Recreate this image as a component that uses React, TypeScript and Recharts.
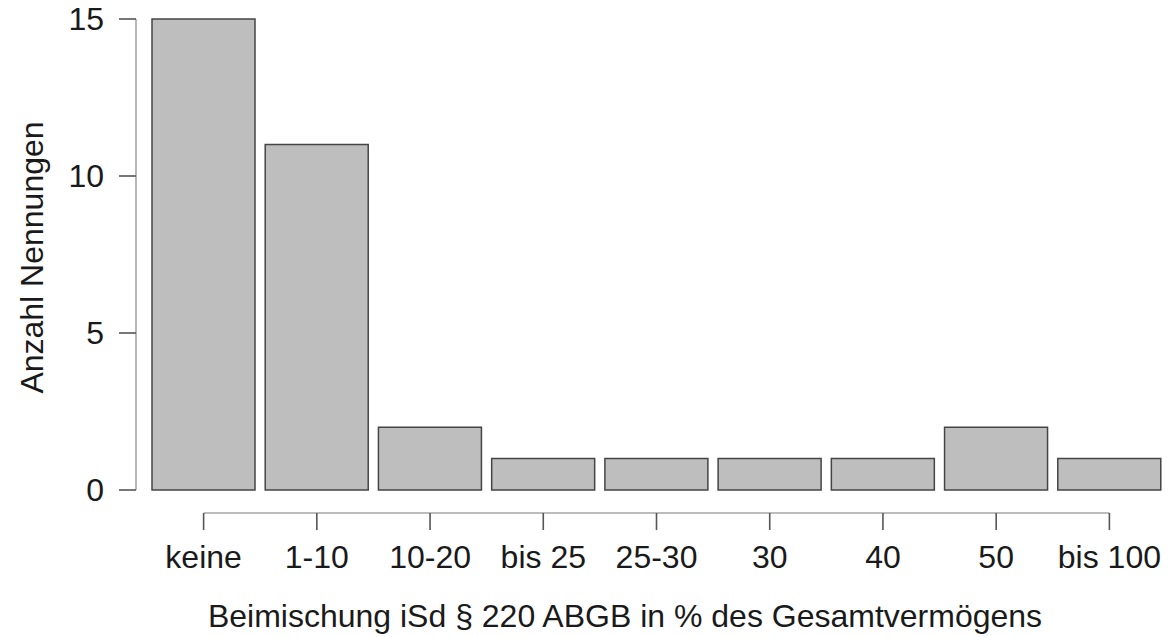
import React from "react";
import { BarChart, Bar, XAxis, YAxis } from "recharts";

const categories = ["keine", "1-10", "10-20", "bis 25", "25-30", "30", "40", "50", "bis 100"];
const counts = [15, 11, 2, 1, 1, 1, 1, 2, 1];
const yTicks = [0, 5, 10, 15];
const yTitle = "Anzahl Nennungen";
const xTitle = "Beimischung iSd § 220 ABGB in % des Gesamtvermögens";

const data = categories.map((c, i) => ({ name: c, value: counts[i] }));

const W = 1169;
const H = 637;
const MARGIN = { top: 19, right: 3, bottom: 0, left: 0 };
const Y_AXIS_W = 136;
const X_AXIS_H = 147;
const PAD_LEFT = 11;
const PLOT_W = W - MARGIN.left - MARGIN.right - Y_AXIS_W;
const BAND = (PLOT_W - PAD_LEFT) / categories.length;

const FONT = "'Liberation Sans', Arial, Helvetica, sans-serif";
const FS = 32;
const LINE = "#a6a6a6";
const TICK = "#555555";
const TEXT = "#1a1a1a";

const XTick = (props: any) => {
  const { x, y, payload, index, visibleTicksCount } = props;
  const lineY = y + 23;
  return (
    <g>
      {index === 0 && (
        <line
          x1={x}
          x2={x + BAND * (visibleTicksCount - 1)}
          y1={lineY}
          y2={lineY}
          stroke={LINE}
          strokeWidth={1.6}
        />
      )}
      <line x1={x} x2={x} y1={lineY} y2={lineY + 17} stroke={TICK} strokeWidth={1.6} />
      <text
        x={x}
        y={y + 78}
        textAnchor="middle"
        fontFamily={FONT}
        fontSize={FS}
        fill={TEXT}
      >
        {payload.value}
      </text>
    </g>
  );
};

const XLabel = (props: any) => {
  const vb = props.viewBox || {};
  return (
    <text
      x={625}
      y={(vb.y || 490) + 137}
      textAnchor="middle"
      fontFamily={FONT}
      fontSize={FS}
      fill={TEXT}
    >
      {xTitle}
    </text>
  );
};

const YLabel = (props: any) => {
  const vb = props.viewBox || {};
  const cx = 43;
  const cy = (vb.y || 19) + (vb.height || 471) / 2 + 3;
  return (
    <text
      x={cx}
      y={cy}
      textAnchor="middle"
      transform={`rotate(-90, ${cx}, ${cy})`}
      fontFamily={FONT}
      fontSize={FS}
      fill={TEXT}
    >
      {yTitle}
    </text>
  );
};

export default function App() {
  return (
    <div style={{ position: "absolute", left: 0, top: 0, width: W, height: H, background: "#fff" }}>
      <BarChart width={W} height={H} data={data} margin={MARGIN}>
        <XAxis
          dataKey="name"
          type="category"
          height={X_AXIS_H}
          padding={{ left: PAD_LEFT, right: 0 }}
          axisLine={false}
          tickLine={false}
          tickSize={0}
          tickMargin={0}
          interval={0}
          tick={<XTick />}
          label={<XLabel />}
        />
        <YAxis
          width={Y_AXIS_W}
          domain={[0, 15]}
          ticks={yTicks}
          interval={0}
          axisLine={{ stroke: LINE, strokeWidth: 1.6 }}
          tickLine={{ stroke: TICK, strokeWidth: 1.6 }}
          tickSize={17}
          tickMargin={15}
          tick={{ fontFamily: FONT, fontSize: FS, fill: TEXT }}
          label={<YLabel />}
        />
        <Bar
          dataKey="value"
          fill="#bebebe"
          stroke="#454545"
          strokeWidth={1.5}
          barSize={103}
          isAnimationActive={false}
        />
      </BarChart>
    </div>
  );
}
